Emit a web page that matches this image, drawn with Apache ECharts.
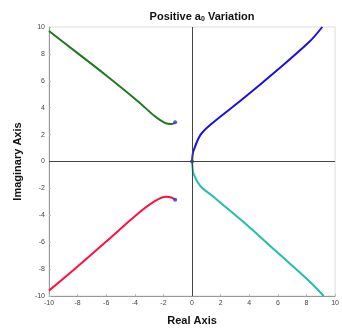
<!DOCTYPE html>
<html><head><meta charset="utf-8">
<script src="https://cdn.jsdelivr.net/npm/echarts@6/dist/echarts.min.js"></script>
<style>html,body{margin:0;padding:0;background:#fff}#c{width:342px;height:331px}</style>
</head><body><div id="c"></div>
<script>
const xTicks = [-10,-8,-6,-4,-2,0,2,4,6,8,10];
const yTicks = [-10,-8,-6,-4,-2,0,2,4,6,8,10];
const branchUpperLeft = [[-10,9.7],[-8.3,8.3],[-6,6.4],[-3.75,4.45],[-2.6,3.36],[-1.9,2.87],[-1.46,2.78],[-1.22,2.85]];
const branchLowerLeft = [[-10,-9.6],[-8,-7.8],[-6,-5.95],[-3.75,-3.85],[-2.6,-2.95],[-1.8,-2.63],[-1.45,-2.68],[-1.22,-2.82]];
const branchUpperRight = [[0,0],[0.03,0.4],[0.1,0.8],[0.6,2.0],[1.3,2.75],[3.6,4.7],[5.9,6.75],[8.2,8.9],[9.1,10]];
const branchLowerRight = [[0,0],[0.03,-0.4],[0.1,-0.9],[0.6,-1.85],[1.3,-2.46],[3.6,-4.5],[5.9,-6.7],[8.2,-8.9],[9.2,-10]];
const poles = [[-1.18,2.92],[-1.18,-2.85],[0,0]];

const chart = echarts.init(document.getElementById('c'));
const font = 'Liberation Sans, Arial, sans-serif';
function lineSeries(data, color){
  return {type:'line', data:data, showSymbol:false, smooth:0.35, lineStyle:{color:color,width:2}, silent:true, z:3};
}
chart.setOption({
  animation:false,
  title:{text:'Positive a{s|0} Variation', left:197, top:5, textAlign:'center',
    textStyle:{fontFamily:font,fontSize:11,fontWeight:'bold',color:'#111',
      rich:{s:{fontFamily:font,fontSize:7,fontWeight:'bold',verticalAlign:'bottom',padding:[6,0,0,0],color:'#111'}}}},
  grid:{left:49,right:2,top:27,bottom:29,show:true,borderColor:'#ddd',borderWidth:1},
  xAxis:{type:'value',min:-10,max:10,interval:2,
    name:'Real Axis',nameLocation:'middle',nameGap:19,
    nameTextStyle:{fontFamily:font,fontSize:11,fontWeight:'bold',color:'#111'},
    axisLine:{show:true,onZero:false,lineStyle:{color:'#999'}},
    axisTick:{show:true,inside:true,length:2,lineStyle:{color:'#bbb'}},
    axisLabel:{fontFamily:font,fontSize:7,color:'#444',margin:4},
    splitLine:{show:false}},
  yAxis:{type:'value',min:-10,max:10,interval:2,
    name:'Imaginary Axis',nameLocation:'middle',nameGap:26,
    nameTextStyle:{fontFamily:font,fontSize:11,fontWeight:'bold',color:'#111'},
    axisLine:{show:true,onZero:false,lineStyle:{color:'#999'}},
    axisTick:{show:true,inside:true,length:2,lineStyle:{color:'#bbb'}},
    axisLabel:{fontFamily:font,fontSize:7,color:'#444',margin:4},
    splitLine:{show:false}},
  series:[
    {type:'line',data:[],silent:true,
     markLine:{silent:true,symbol:'none',label:{show:false},
       lineStyle:{color:'#444',width:1,type:'solid'},
       data:[{xAxis:0},{yAxis:0}]}},
    lineSeries(branchUpperLeft,'#1f7a1f'),
    lineSeries(branchLowerLeft,'#ff1040'),
    lineSeries(branchUpperRight,'#1a10e0'),
    lineSeries(branchLowerRight,'#20c0a8'),
    {type:'scatter',data:poles,symbolSize:4,itemStyle:{color:'#3030c0'},silent:true,z:4}
  ]
});
</script></body></html>
